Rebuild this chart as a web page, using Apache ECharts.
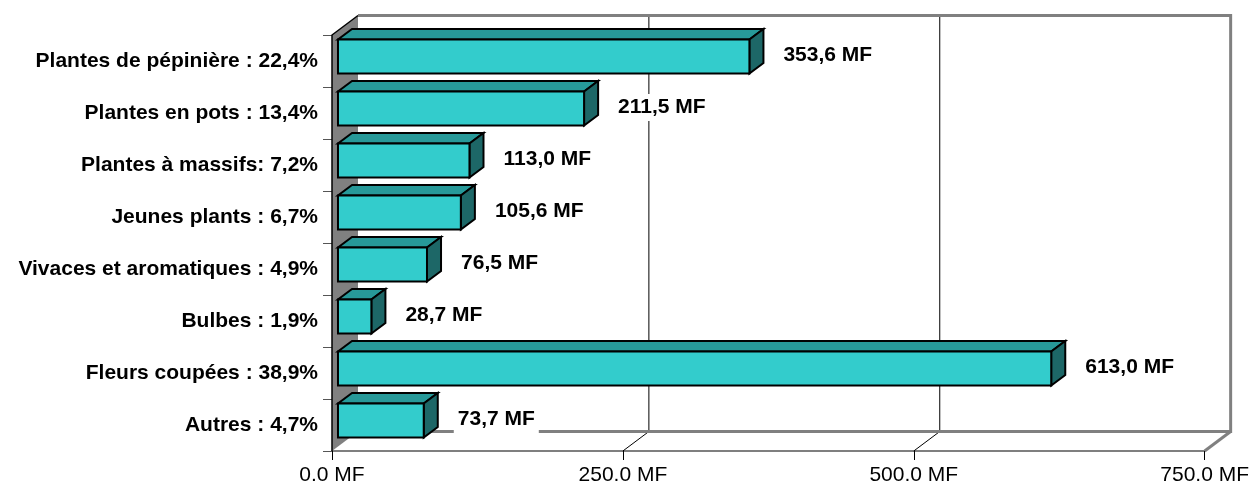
<!DOCTYPE html>
<html>
<head>
<meta charset="utf-8">
<script src="https://cdn.jsdelivr.net/npm/echarts@6/dist/echarts.min.js"></script>
<style>
  html, body { margin: 0; padding: 0; background: #fff; }
  #main { width: 1252px; height: 486px; }
</style>
</head>
<body>
<div id="main"></div>
<script>
// categories (top to bottom) and values in MF
var categories = [
    'Plantes de pépinière : 22,4%',
    'Plantes en pots : 13,4%',
    'Plantes à massifs: 7,2%',
    'Jeunes plants : 6,7%',
    'Vivaces et aromatiques : 4,9%',
    'Bulbes : 1,9%',
    'Fleurs coupées : 38,9%',
    'Autres : 4,7%'
];
var values = [353.6, 211.5, 113.0, 105.6, 76.5, 28.7, 613.0, 73.7];
var xTicks = [0, 250, 500, 750];

var FONT = '"Liberation Sans", Arial, sans-serif';
// depth of the fake 3D box (pixels)
var DX = 26, DY = -19.5;
var F0 = 0.23, F1 = 0.77;

var myChart = echarts.init(document.getElementById('main'));

function fmtMF(v) {
    return v.toFixed(1).replace('.', ',') + ' MF';
}

// walls, floor and back gridlines
function renderFrame(params, api) {
    var band = api.size([0, 1])[1];
    var top = api.coord([0, 0])[1] - band / 2;
    var bot = api.coord([0, categories.length - 1])[1] + band / 2;
    var x0 = api.coord([xTicks[0], 0])[0];
    var xEnd = api.coord([xTicks[xTicks.length - 1], 0])[0];
    var children = [];
    // left wall
    children.push({
        type: 'polygon',
        shape: { points: [[x0, top], [x0 + DX, top + DY], [x0 + DX, bot + DY], [x0, bot]] },
        style: { fill: '#808080', stroke: null }
    });
    children.push({
        type: 'polyline',
        shape: { points: [[x0, bot], [x0, top], [x0 + DX, top + DY]] },
        style: { stroke: '#000', lineWidth: 1.5, fill: null }
    });
    // back gridlines + floor diagonals
    for (var i = 1; i < xTicks.length - 1; i++) {
        var x = api.coord([xTicks[i], 0])[0];
        children.push({
            type: 'polyline',
            shape: { points: [[x, bot], [x + DX, bot + DY], [x + DX, top + DY]] },
            style: { stroke: '#000', lineWidth: 1, fill: null }
        });
    }
    // back wall border (top, right, floor back edge, right diagonal)
    children.push({
        type: 'polyline',
        shape: { points: [[x0 + DX, top + DY], [xEnd + DX, top + DY], [xEnd + DX, bot + DY], [x0 + DX, bot + DY]] },
        style: { stroke: '#808080', lineWidth: 3, fill: null }
    });
    children.push({
        type: 'line',
        shape: { x1: xEnd, y1: bot, x2: xEnd + DX, y2: bot + DY },
        style: { stroke: '#808080', lineWidth: 3 }
    });
    return { type: 'group', children: children };
}

function renderBar(params, api) {
    var idx = api.value(0);
    var val = api.value(1);
    var band = api.size([0, 1])[1];
    var p0 = api.coord([0, idx]);
    var p1 = api.coord([val, idx]);
    var h = band * 0.655;
    var xa = p0[0] + F0 * DX, xb = p1[0] + F0 * DX;
    var yc = p0[1] + F0 * DY;
    var t = yc - h / 2, b = yc + h / 2;
    var ddx = (F1 - F0) * DX, ddy = (F1 - F0) * DY;
    var st = { stroke: '#000', lineWidth: 2, lineJoin: 'miter' };
    return {
        type: 'group',
        children: [
            {
                type: 'polygon',
                shape: { points: [[xa, t], [xb, t], [xb + ddx, t + ddy], [xa + ddx, t + ddy]] },
                style: Object.assign({ fill: '#279999' }, st)
            },
            {
                type: 'polygon',
                shape: { points: [[xb, t], [xb + ddx, t + ddy], [xb + ddx, b + ddy], [xb, b]] },
                style: Object.assign({ fill: '#1d6767' }, st)
            },
            {
                type: 'rect',
                shape: { x: xa, y: t, width: xb - xa, height: h },
                style: Object.assign({ fill: '#33cccc' }, st)
            },
            {
                type: 'text',
                x: xb + ddx + 16,
                y: yc - 1,
                style: {
                    text: fmtMF(val),
                    fill: '#000',
                    font: 'bold 21px ' + FONT,
                    align: 'left',
                    verticalAlign: 'middle',
                    backgroundColor: '#fff',
                    padding: [3, 4]
                }
            }
        ]
    };
}

var option = {
    backgroundColor: '#fff',
    animation: false,
    grid: { left: 332, right: 47, top: 35, bottom: 35 },
    xAxis: {
        type: 'value',
        min: 0,
        max: 750,
        interval: 250,
        axisLine: { show: true, lineStyle: { color: '#555', width: 1.5 } },
        axisTick: { show: true, length: 9, lineStyle: { color: '#000' } },
        splitLine: { show: false },
        axisLabel: {
            margin: 14,
            color: '#000',
            fontFamily: FONT,
            fontSize: 21,
            formatter: function (v) { return v.toFixed(1) + ' MF'; }
        }
    },
    yAxis: {
        type: 'category',
        inverse: true,
        data: categories,
        axisLine: { show: false },
        axisTick: { show: true, length: 9, lineStyle: { color: '#555' } },
        axisLabel: {
            margin: 14,
            color: '#000',
            fontFamily: FONT,
            fontWeight: 'bold',
            fontSize: 21
        }
    },
    series: [
        {
            type: 'custom',
            name: 'frame',
            clip: false,
            silent: true,
            z: 1,
            renderItem: renderFrame,
            data: [[0, 0]]
        },
        {
            type: 'custom',
            name: 'ventes',
            clip: false,
            z: 3,
            encode: { x: 1, y: 0 },
            renderItem: renderBar,
            data: values.map(function (v, i) { return [i, v]; })
        }
    ]
};

myChart.setOption(option);
</script>
</body>
</html>
